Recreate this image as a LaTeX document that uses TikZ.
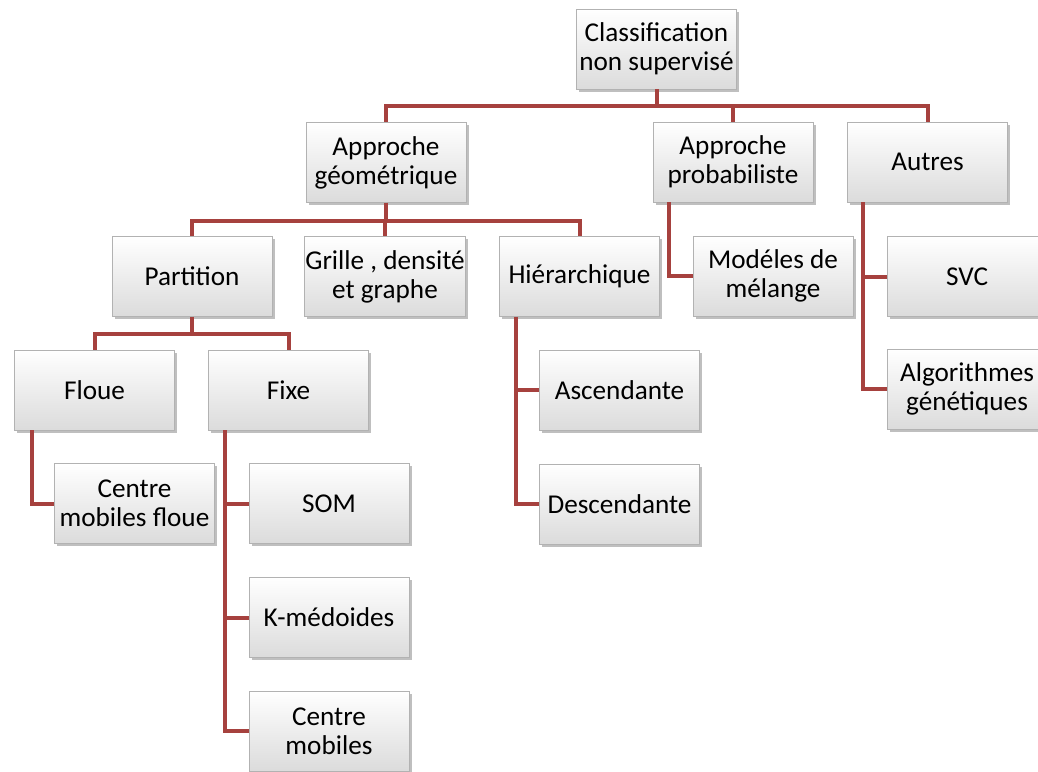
\documentclass[tikz,border=0pt]{standalone}
\usepackage{fontspec}
\setmainfont{Carlito}
\usetikzlibrary{shadows}
\definecolor{linkred}{RGB}{166,65,62}
\tikzset{
  box/.style={draw=gray!60, top color=white, bottom color=gray!28,
    drop shadow={shadow xshift=1.4pt, shadow yshift=-1.4pt, opacity=0.5},
    minimum width=80pt, minimum height=40pt, align=center, inner sep=0.5pt,
    font=\fontsize{13.6}{14.6}\selectfont},
  link/.style={draw=linkred, line width=2pt}
}
\begin{document}
\begin{tikzpicture}[x=0.5pt,y=-0.5pt]
\useasboundingbox (0,0) rectangle (1038,771);
% level 0 and 1
\node[box] (clas) at (656.5,49) {Classification\\non supervisé};
\node[box] (geo) at (386,162.5) {Approche\\géométrique};
\node[box] (proba) at (733,162) {Approche\\probabiliste};
\node[box] (autres) at (927.5,162) {Autres};
% level 2
\node[box] (part) at (192,276.5) {Partition};
\node[box] (grille) at (385,276.5) {Grille , densité\\et graphe};
\node[box] (hier) at (579.5,276.5) {Hiérarchique};
\node[box] (melange) at (773,276) {Modéles de\\mélange};
\node[box] (svc) at (967,276.5) {SVC};
\node[box] (algo) at (967,389) {Algorithmes\\génétiques};
% level 3
\node[box] (floue) at (94.5,390) {Floue};
\node[box] (fixe) at (288.5,390) {Fixe};
\node[box] (asc) at (619.5,390) {Ascendante};
\node[box] (desc) at (619.5,504) {Descendante};
\node[box] (cmf) at (134.5,503.5) {Centre\\mobiles floue};
\node[box] (som) at (329,503.5) {SOM};
\node[box] (kmed) at (329,617.5) {K-médoides};
\node[box] (cm) at (329,731) {Centre\\mobiles};
% tree links
\foreach \n in {geo,proba,autres}
\draw[link] (clas.south) -- ++(0,17) -| (\n.north);
\foreach \n in {part,grille,hier}
\draw[link] (geo.south) -- ++(0,18) -| (\n.north);
\foreach \n in {floue,fixe}
\draw[link] (part.south) -- ++(0,17) -| (\n.north);
% side links
\draw[link] ([xshift=9pt]floue.south west) |- (cmf.west);
\foreach \n in {som,kmed,cm}
\draw[link] ([xshift=8.5pt]fixe.south west) |- (\n.west);
\foreach \n in {asc,desc}
\draw[link] ([xshift=8.5pt]hier.south west) |- (\n.west);
\draw[link] ([xshift=8.25pt]proba.south west) |- (melange.west);
\foreach \n in {svc,algo}
\draw[link] ([xshift=8pt]autres.south west) |- (\n.west);
\end{tikzpicture}
\end{document}
